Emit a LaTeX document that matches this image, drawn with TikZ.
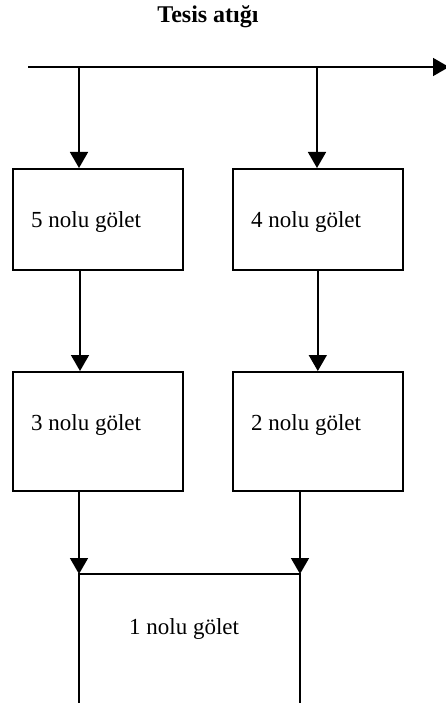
\documentclass[tikz,border=0pt]{standalone}
\usepackage{fontspec}
\setmainfont{Liberation Serif}
\usetikzlibrary{arrows.meta}
\begin{document}
\begin{tikzpicture}[x=1pt,y=-1pt,
  flow/.style={line width=1.6pt, -{Triangle[width=18pt,length=16pt]}},
  plain/.style={line width=1.6pt},
  pond/.style={draw, line width=1.6pt, minimum width=170pt, minimum height=101pt, inner sep=0pt, anchor=north west},
  lbl/.style={font=\fontsize{23}{27}\selectfont, inner sep=0pt, anchor=base west}]
\useasboundingbox (0,0) rectangle (445,703);
\node[font=\bfseries\fontsize{24}{28}\selectfont] (title) at (208,17) {Tesis atığı};
\coordinate (in) at (28,67);
\coordinate (out) at (449,67);
\coordinate (j5) at (79,67);
\coordinate (j4) at (317,67);
\node[pond] (p5) at (12,168) {};
\node[pond] (p4) at (232,168) {};
\node[pond, minimum height=119pt] (p3) at (12,371) {};
\node[pond, minimum height=119pt] (p2) at (232,371) {};
\node[lbl] (t5) at (31,228) {5 nolu gölet};
\node[lbl] (t4) at (251,228) {4 nolu gölet};
\node[lbl] (t3) at (31,430.5) {3 nolu gölet};
\node[lbl] (t2) at (251,430.5) {2 nolu gölet};
\coordinate (a) at (79,574);
\coordinate (b) at (300,574);
\coordinate (ae) at (79,705);
\coordinate (be) at (300,705);
\node[lbl] (t1) at (129,634) {1 nolu gölet};
\draw[flow] (in) -- (out);
\draw[flow] (j5) -- (j5 |- p5.north);
\draw[flow] (j4) -- (j4 |- p4.north);
\draw[flow] (p5.south -| 80,0) -- (p3.north -| 80,0);
\draw[flow] (p4.south) -- (p2.north);
\draw[flow] (p3.south -| a) -- (a);
\draw[flow] (p2.south -| b) -- (b);
\draw[plain] (ae) -- (a) -- (b) -- (be);
\end{tikzpicture}
\end{document}
